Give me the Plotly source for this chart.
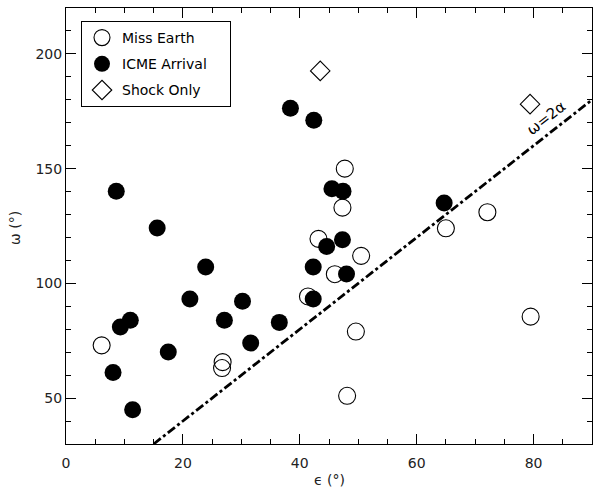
import plotly.graph_objects as go

# Data
miss_x = [47.7, 47.3, 43.2, 50.5, 46.0, 41.4, 65.0, 72.1, 79.5, 6.1, 26.8, 26.7, 49.6, 48.1]
miss_y = [150, 133, 119.4, 112, 104, 94.3, 124, 131, 85.5, 73, 65.7, 63.1, 79, 51]

icme_x = [38.4, 42.4, 8.6, 15.6, 23.9, 21.2, 30.2, 42.3, 42.3, 45.5, 47.4, 44.6, 47.3,
          48.0, 64.7, 11.0, 9.3, 8.05, 11.4, 17.5, 27.1, 31.6, 36.5]
icme_y = [176.3, 171.1, 140.1, 124.1, 107.1, 93.2, 92.2, 107.1, 93.2, 141.2, 140.1, 116.1, 119.0,
          104.1, 135.0, 83.9, 81.0, 61.2, 44.9, 70.1, 83.9, 74.0, 83.0]

shock_x = [43.5, 79.4]
shock_y = [192.6, 178.1]

ref_x = [15, 90]
ref_y = [30, 180]

series_names = ["Miss Earth", "ICME Arrival", "Shock Only"]

FONT = "DejaVu Sans"
PAD = "\u00a0" * 4

fig = go.Figure()
fig.add_trace(go.Scatter(x=ref_x, y=ref_y, mode="lines", showlegend=False,
                         line=dict(color="black", width=2.8, dash="dashdot"), hoverinfo="skip"))
fig.add_trace(go.Scatter(x=miss_x, y=miss_y, mode="markers", name=series_names[0] + PAD, legendgroup="a",
                         marker=dict(symbol="circle-open", size=17, color="black", line=dict(width=1.1))))
fig.add_trace(go.Scatter(x=icme_x, y=icme_y, mode="markers", name=series_names[1] + PAD, legendgroup="b",
                         marker=dict(symbol="circle", size=17, color="black")))
fig.add_trace(go.Scatter(x=shock_x, y=shock_y, mode="markers", name=series_names[2] + PAD, legendgroup="c",
                         marker=dict(symbol="diamond-open", size=15, color="black", line=dict(width=1.1))))

axis_common = dict(showline=True, linecolor="black", linewidth=1, mirror="ticks",
                   ticks="inside", ticklen=10, tickwidth=1, tickcolor="black",
                   showgrid=False, zeroline=False,
                   tickfont=dict(family=FONT, size=14, color="#222"))

fig.update_xaxes(range=[0, 90], tick0=0, dtick=20, ticklabelstandoff=6,
                 minor=dict(dtick=5, ticklen=5, ticks="inside", tickcolor="black", tickwidth=1),
                 **axis_common)
fig.update_yaxes(range=[30, 220], tick0=0, dtick=50,
                 minor=dict(dtick=10, ticklen=5, ticks="inside", tickcolor="black", tickwidth=1),
                 **axis_common)

W, H = 593, 488
L, R, T, B = 66, 1, 8, 44
pw, ph = W - L - R, H - T - B

def px(x):
    return (x - L) / pw

def py(y):
    return (H - B - y) / ph

fig.add_annotation(text="ϵ (°)", xref="paper", yref="paper", x=px(329), y=py(480),
                   showarrow=False, xanchor="center", yanchor="middle",
                   font=dict(family=FONT, size=14, color="#222"))
fig.add_annotation(text="ω (°)", xref="paper", yref="paper", x=px(15), y=py(228),
                   showarrow=False, xanchor="center", yanchor="middle", textangle=-90,
                   font=dict(family=FONT, size=14, color="#222"))
fig.add_annotation(text="ω=2α", x=82.2, y=172.0, xref="x", yref="y", showarrow=False,
                   textangle=-38, font=dict(family=FONT, size=15, color="black"))

fig.update_layout(
    width=W, height=H,
    margin=dict(l=L, r=R, t=T, b=B, pad=0),
    paper_bgcolor="white", plot_bgcolor="white",
    font=dict(family=FONT, size=14, color="black"),
    legend=dict(x=px(81), y=py(21), xanchor="left", yanchor="top",
                bordercolor="black", borderwidth=1, bgcolor="white",
                tracegroupgap=5, font=dict(family=FONT, size=14, color="black")),
    showlegend=True,
)

fig.write_html("out.html")
